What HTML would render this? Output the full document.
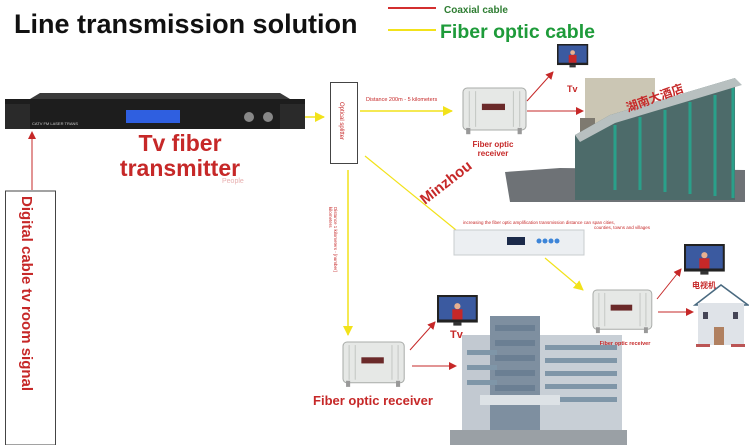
<!DOCTYPE html>
<html><head><meta charset="utf-8"><style>
html,body{margin:0;padding:0;background:#fff;}
svg{display:block;font-family:"Liberation Sans","Noto Sans CJK SC",sans-serif;}
</style></head><body>
<svg width="749" height="445" viewBox="0 0 749 445" xmlns="http://www.w3.org/2000/svg">
<defs>
<marker id="ar" markerWidth="8" markerHeight="8" refX="7" refY="4" orient="auto" markerUnits="userSpaceOnUse"><path d="M0,0L8,4L0,8z" fill="#c62828"/></marker>
<marker id="ay" markerWidth="10" markerHeight="10" refX="9" refY="5" orient="auto" markerUnits="userSpaceOnUse"><path d="M0,0L10,5L0,10z" fill="#f2e21a"/></marker>
<g id="rcv">
<rect x="0" y="0" width="60" height="40" rx="4" fill="#e6e8e6" stroke="#a9aca9"/>
<g stroke="#c4c7c4" stroke-width="1"><line x1="6" y1="3" x2="6" y2="37"/><line x1="12" y1="3" x2="12" y2="37"/><line x1="48" y1="3" x2="48" y2="37"/><line x1="54" y1="3" x2="54" y2="37"/></g>
<rect x="18" y="15" width="22" height="6" fill="#6b2a2a"/>
<rect x="3" y="38" width="4" height="6" fill="#999"/><rect x="52" y="38" width="4" height="6" fill="#999"/>
</g>
<g id="tv">
<rect x="0" y="0" width="40" height="27" fill="#222"/>
<rect x="2" y="2" width="36" height="22" fill="#3b5aa0"/>
<circle cx="20" cy="11" r="3" fill="#e8b090"/><rect x="15" y="14" width="10" height="10" fill="#c62828"/>
<rect x="16" y="27" width="8" height="3" fill="#333"/>
</g>
</defs>

<text x="14" y="33" font-size="27" font-weight="bold" fill="#111">Line transmission solution</text>
<line x1="388" y1="8" x2="436" y2="8" stroke="#d32f2f" stroke-width="2"/>
<text x="444" y="13" font-size="10" font-weight="bold" fill="#2e7d32">Coaxial cable</text>
<line x1="388" y1="30" x2="436" y2="30" stroke="#f2e21a" stroke-width="2"/>
<text x="440" y="38" font-size="19.5" font-weight="bold" fill="#1e9b3a">Fiber optic cable</text>

<!-- transmitter -->
<rect x="5" y="99" width="300" height="30" fill="#1d1d1d"/>
<polygon points="30,99 40,93 280,93 290,99" fill="#3a3a3a"/>
<rect x="5" y="104" width="25" height="25" fill="#2a2a2a"/>
<rect x="280" y="104" width="25" height="25" fill="#2a2a2a"/>
<rect x="126" y="110" width="54" height="13" fill="#2f5fe0"/>
<circle cx="249" cy="117" r="5" fill="#888"/><circle cx="268" cy="117" r="5" fill="#888"/>
<text x="32" y="125" font-size="4" fill="#ccc">CATV FM LASER TRANS</text>
<text x="180" y="151" font-size="23" font-weight="bold" fill="#c62828" text-anchor="middle">Tv fiber</text>
<text x="180" y="176" font-size="23" font-weight="bold" fill="#c62828" text-anchor="middle">transmitter</text>
<text x="222" y="183" font-size="7" fill="#e8b0b0">People</text>

<line x1="32" y1="190" x2="32" y2="132" stroke="#c62828" stroke-width="1" marker-end="url(#ar)"/>
<rect x="5.5" y="191" width="50" height="254" fill="#fff" stroke="#444"/>
<text transform="translate(22,196) rotate(90)" font-size="15" font-weight="bold" fill="#c62828">Digital cable tv room signal</text>

<line x1="305" y1="117" x2="324" y2="117" stroke="#f2e21a" stroke-width="1.5" marker-end="url(#ay)"/>
<rect x="330.5" y="82.5" width="27" height="81" fill="#fff" stroke="#444"/>
<text transform="translate(340,102) rotate(90)" font-size="6" fill="#c62828">Optical splitter</text>

<!-- receiver 1 -->
<line x1="360" y1="111" x2="452" y2="111" stroke="#f2e21a" stroke-width="1.5" marker-end="url(#ay)"/>
<text x="366" y="101" font-size="5.5" fill="#c62828">Distance 200m - 5 kilometers</text>
<use href="#rcv" transform="translate(463,88) scale(1.05)"/>
<text x="493" y="147" font-size="8" font-weight="bold" fill="#c62828" text-anchor="middle">Fiber optic</text>
<text x="493" y="156" font-size="8" font-weight="bold" fill="#c62828" text-anchor="middle">receiver</text>
<line x1="527" y1="111" x2="583" y2="111" stroke="#c62828" stroke-width="1" marker-end="url(#ar)"/>
<line x1="527" y1="101" x2="553" y2="72" stroke="#c62828" stroke-width="1" marker-end="url(#ar)"/>
<use href="#tv" transform="translate(557,44) scale(0.78)"/>
<text x="567" y="92" font-size="9" font-weight="bold" fill="#c62828">Tv</text>

<!-- hotel -->
<polygon points="505,172 560,168 745,170 745,202 510,202" fill="#6e7276"/>
<rect x="585" y="78" width="70" height="100" fill="#cbc6b4"/>
<rect x="580" y="118" width="15" height="50" fill="#7e7a70"/>
<polygon points="575,135 610,115 735,78 735,200 575,200" fill="#4d6b6a"/>
<polygon points="575,135 610,115 735,78 742,85 615,123 580,142" fill="#b8c0c0"/>
<g stroke="#2aa08a" stroke-width="3"><line x1="615" y1="125" x2="615" y2="190"/><line x1="640" y1="117" x2="640" y2="190"/><line x1="665" y1="110" x2="665" y2="192"/><line x1="690" y1="102" x2="690" y2="194"/><line x1="715" y1="95" x2="715" y2="196"/><line x1="733" y1="88" x2="733" y2="198"/></g>
<text x="628" y="112" font-size="12" font-weight="bold" fill="#c62828" transform="rotate(-20 628 112)">湖南大酒店</text>

<text x="425" y="205" font-size="15" font-weight="bold" fill="#c62828" transform="rotate(-38 425 205)">Minzhou</text>

<!-- amplifier -->
<line x1="365" y1="156" x2="456" y2="230" stroke="#f2e21a" stroke-width="1.2"/>
<text x="463" y="224" font-size="4.5" fill="#c62828">increasing the fiber optic amplification transmission distance can span cities,</text>
<text x="650" y="229" font-size="4.5" fill="#c62828" text-anchor="end">counties, towns and villages</text>
<rect x="454" y="230" width="130" height="25" fill="#eceff2" stroke="#c8cccf"/>
<rect x="507" y="237" width="18" height="8" fill="#1b2a4a"/>
<circle cx="539" cy="241" r="2.5" fill="#3d85d8"/><circle cx="545" cy="241" r="2.5" fill="#3d85d8"/><circle cx="551" cy="241" r="2.5" fill="#3d85d8"/><circle cx="557" cy="241" r="2.5" fill="#3d85d8"/>

<!-- receiver 3 -->
<line x1="348" y1="170" x2="348" y2="335" stroke="#f2e21a" stroke-width="1.5" marker-end="url(#ay)"/>
<text transform="translate(334,207) rotate(90)" font-size="4.5" fill="#c62828">Distance 1 kilometers - [number]</text>
<text transform="translate(329,207) rotate(90)" font-size="4.5" fill="#c62828">kilometers</text>
<use href="#rcv" transform="translate(343,342) scale(1.02)"/>
<text x="373" y="405" font-size="13" font-weight="bold" fill="#c62828" text-anchor="middle">Fiber optic receiver</text>
<line x1="410" y1="350" x2="435" y2="322" stroke="#c62828" stroke-width="1" marker-end="url(#ar)"/>
<line x1="412" y1="366" x2="456" y2="366" stroke="#c62828" stroke-width="1" marker-end="url(#ar)"/>
<use href="#tv" transform="translate(437,295) scale(1.02)"/>
<text x="450" y="338" font-size="11" font-weight="bold" fill="#c62828">Tv</text>

<!-- office building -->
<rect x="462" y="335" width="40" height="105" fill="#c2c9d1"/>
<rect x="490" y="316" width="50" height="124" fill="#7e8fa0"/>
<rect x="540" y="335" width="82" height="105" fill="#c8cfd6"/>
<g fill="#6b7f93"><rect x="495" y="325" width="40" height="6"/><rect x="495" y="340" width="40" height="6"/><rect x="495" y="355" width="40" height="6"/><rect x="495" y="370" width="40" height="6"/><rect x="495" y="385" width="40" height="6"/></g>
<g fill="#7f96a8"><rect x="545" y="345" width="72" height="5"/><rect x="545" y="358" width="72" height="5"/><rect x="545" y="371" width="72" height="5"/><rect x="545" y="384" width="72" height="5"/><rect x="545" y="397" width="72" height="5"/><rect x="467" y="350" width="30" height="5"/><rect x="467" y="365" width="30" height="5"/><rect x="467" y="380" width="30" height="5"/></g>
<rect x="480" y="395" width="80" height="10" fill="#dde2e6"/>
<rect x="450" y="430" width="177" height="15" fill="#9aa0a5"/>

<!-- receiver 2 -->
<line x1="545" y1="258" x2="583" y2="290" stroke="#f2e21a" stroke-width="1.2" marker-end="url(#ay)"/>
<use href="#rcv" transform="translate(593,290) scale(0.98)"/>
<text x="625" y="345" font-size="5.5" font-weight="bold" fill="#c62828" text-anchor="middle">Fiber optic receiver</text>
<line x1="657" y1="299" x2="681" y2="269" stroke="#c62828" stroke-width="1" marker-end="url(#ar)"/>
<line x1="658" y1="312" x2="693" y2="312" stroke="#c62828" stroke-width="1" marker-end="url(#ar)"/>
<use href="#tv" transform="translate(684,244) scale(1.02)"/>
<text x="704" y="288" font-size="8" font-weight="bold" fill="#c62828" text-anchor="middle">电视机</text>
<!-- house -->
<polygon points="695,305 721,285 748,305" fill="#fff" stroke="#4a6a80" stroke-width="1.5"/>
<rect x="698" y="303" width="46" height="42" fill="#dfe3e8"/>
<rect x="714" y="327" width="10" height="18" fill="#b08060"/>
<rect x="703" y="312" width="5" height="7" fill="#445"/><rect x="733" y="312" width="5" height="7" fill="#445"/>
<rect x="696" y="344" width="14" height="3" fill="#b55"/><rect x="731" y="344" width="14" height="3" fill="#b55"/>
</svg>
</body></html>
